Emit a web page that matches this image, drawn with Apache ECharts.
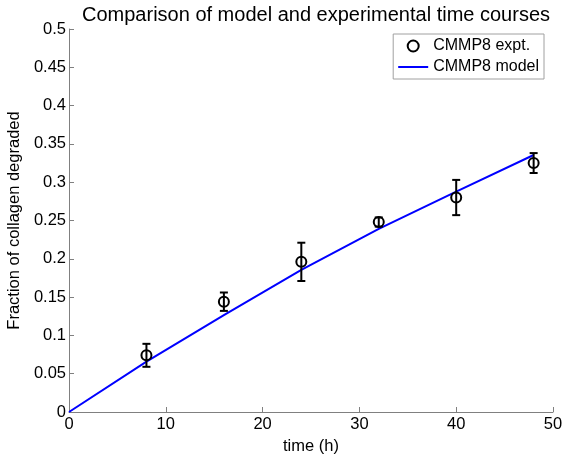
<!DOCTYPE html>
<html><head><meta charset="utf-8">
<script src="https://cdn.jsdelivr.net/npm/echarts@6/dist/echarts.min.js"></script>
<style>html,body{margin:0;padding:0;background:#fff}#c{width:563px;height:456px}</style>
</head><body><div id="c"></div>
<script>
var exptTime = [8, 16, 24, 32, 40, 48];
var exptMean = [0.074, 0.144, 0.196, 0.248, 0.280, 0.325];
var exptErr  = [0.015, 0.012, 0.025, 0.006, 0.023, 0.013];
var modelTime = [0, 8, 16, 24, 32, 40, 48];
var modelVal  = [0, 0.0657, 0.1266, 0.1854, 0.2390, 0.2876, 0.3355];

var F = '"Liberation Sans", Arial, sans-serif';
var chart = echarts.init(document.getElementById('c'), null, {renderer: 'canvas'});
var errData = exptTime.map(function(t, i){ return [t, exptMean[i] - exptErr[i], exptMean[i] + exptErr[i]]; });
chart.setOption({
  animation: false,
  backgroundColor: '#fff',
  title: {text: 'Comparison of model and experimental time courses', left: 311, textAlign: 'center', top: 0,
    textStyle: {fontFamily: F, fontSize: 20, fontWeight: 'normal', color: '#000'}},
  grid: {left: 69, right: 10, top: 29, bottom: 44, containLabel: false, outerBoundsMode: 'none'},
  legend: {orient: 'vertical', right: 19, top: 34, backgroundColor: '#fff', borderColor: '#a0a0a0', borderWidth: 1,
    padding: [4, 5, 4, 5], itemGap: 5, itemWidth: 30, itemHeight: 11,
    textStyle: {fontFamily: F, fontSize: 16, color: '#000'},
    data: [
      {name: 'CMMP8 expt.', icon: 'circle', itemStyle: {color: '#fff', borderColor: '#000', borderWidth: 2}},
      {name: 'CMMP8 model', icon: 'path://M0,4.5 L30,4.5 L30,6.5 L0,6.5 Z', itemStyle: {color: '#0000ff', borderWidth: 0}}
    ]},
  xAxis: {type: 'value', min: 0, max: 50, interval: 10, name: 'time (h)', nameLocation: 'middle', nameGap: 21,
    nameTextStyle: {fontFamily: F, fontSize: 16.5, color: '#000'},
    axisLine: {lineStyle: {color: '#808080'}}, axisTick: {inside: true, length: 5, lineStyle: {color: '#808080'}},
    axisLabel: {fontFamily: F, fontSize: 16.5, color: '#000', margin: 4}, splitLine: {show: false}},
  yAxis: {type: 'value', min: 0, max: 0.5, interval: 0.05, name: 'Fraction of collagen degraded', nameLocation: 'middle', nameGap: 40,
    nameTextStyle: {fontFamily: F, fontSize: 16.5, color: '#000'},
    axisLine: {show: true, lineStyle: {color: '#808080'}}, axisTick: {show: true, inside: true, length: 5, lineStyle: {color: '#808080'}},
    axisLabel: {fontFamily: F, fontSize: 16.5, color: '#000', margin: 3}, splitLine: {show: false}},
  series: [
    {name: 'CMMP8 model', type: 'line', data: modelTime.map(function(t, i){ return [t, modelVal[i]]; }),
      smooth: false, symbol: 'none', lineStyle: {color: '#0000ff', width: 2}, itemStyle: {color: '#0000ff'}, z: 2},
    {name: 'errbar', type: 'custom', data: errData, z: 3,
      renderItem: function(params, api){
        var x = api.value(0);
        var lo = api.coord([x, api.value(1)]);
        var hi = api.coord([x, api.value(2)]);
        var w = 4;
        var st = {stroke: '#000', lineWidth: 2, fill: null};
        return {type: 'group', children: [
          {type: 'line', shape: {x1: lo[0], y1: lo[1], x2: hi[0], y2: hi[1]}, style: st},
          {type: 'line', shape: {x1: lo[0]-w, y1: lo[1], x2: lo[0]+w, y2: lo[1]}, style: st},
          {type: 'line', shape: {x1: hi[0]-w, y1: hi[1], x2: hi[0]+w, y2: hi[1]}, style: st}
        ]};
      }},
    {name: 'CMMP8 expt.', type: 'scatter', data: exptTime.map(function(t, i){ return [t, exptMean[i]]; }),
      symbol: 'circle', symbolSize: 10, itemStyle: {color: 'rgba(0,0,0,0)', borderColor: '#000', borderWidth: 2, opacity: 1}, z: 4}
  ]
});
</script></body></html>
